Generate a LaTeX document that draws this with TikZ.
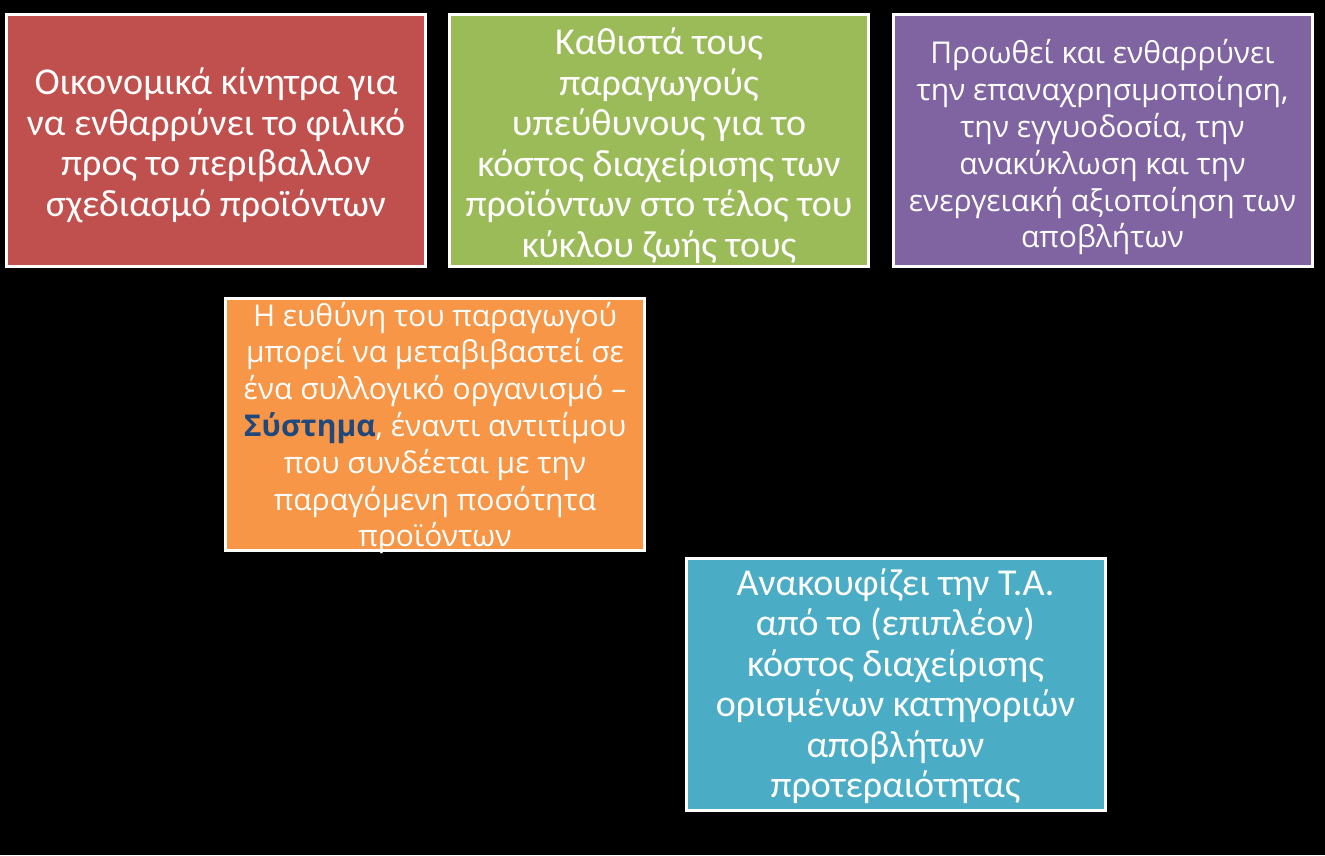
\documentclass[tikz,border=0pt]{standalone}
\usepackage{fontspec}
\setmainfont{Carlito}
\newfontfamily\wideface{Open Sans}
\definecolor{cred}{HTML}{C0504D}
\definecolor{cgreen}{HTML}{9BBB59}
\definecolor{cpurple}{HTML}{8064A2}
\definecolor{corange}{HTML}{F79646}
\definecolor{cblue}{HTML}{4BACC6}
\definecolor{sysblue}{HTML}{1F497D}
\begin{document}
\begin{tikzpicture}[x=1pt,y=-1pt,
  tile/.style={draw=white,line width=3pt,minimum width=419pt,minimum height=252pt,inner sep=0pt},
  candtext/.style={text=white,align=center,inner sep=0pt,font=\fontsize{38}{40.5}\selectfont},
  widetext/.style={text=white,align=center,inner sep=0pt,font=\wideface\fontsize{30}{36.8}\selectfont}]
\fill[black] (0,0) rectangle (1325,855);
\useasboundingbox (0,0) rectangle (1325,855);
\node[tile,fill=cred] (red) at (216,140.5) {};
\node[tile,fill=cgreen] (green) at (659,140.5) {};
\node[tile,fill=cpurple] (purple) at (1102.5,140.5) {};
\node[tile,fill=corange] (orange) at (435,424) {};
\node[tile,fill=cblue] (blue) at (895.5,684) {};
\node[candtext] (redtext) at ([yshift=-5pt]red.center) {Οικονομικά κίνητρα για\\να ενθαρρύνει το φιλικό\\προς το περιβαλλον\\σχεδιασμό προϊόντων};
\node[candtext] (greentext) at ([yshift=-5pt]green.center) {Καθιστά τους\\παραγωγούς\\υπεύθυνους για το\\κόστος διαχείρισης των\\προϊόντων στο τέλος του\\κύκλου ζωής τους};
\node[widetext] (purpletext) at ([yshift=-7pt]purple.center) {Προωθεί και ενθαρρύνει\\την επαναχρησιμοποίηση,\\την εγγυοδοσία, την\\ανακύκλωση και την\\ενεργειακή αξιοποίηση των\\αποβλήτων};
\node[widetext] (orangetext) at ([yshift=-4pt]orange.center) {Η ευθύνη του παραγωγού\\μπορεί να μεταβιβαστεί σε\\ένα συλλογικό οργανισμό –\\{\bfseries\color{sysblue}Σύστημα}, έναντι αντιτίμου\\που συνδέεται με την\\παραγόμενη ποσότητα\\προϊόντων};
\node[candtext] (bluetext) at ([yshift=-2pt]blue.center) {Ανακουφίζει την Τ.Α.\\από το (επιπλέον)\\κόστος διαχείρισης\\ορισμένων κατηγοριών\\αποβλήτων\\προτεραιότητας};
\end{tikzpicture}
\end{document}
